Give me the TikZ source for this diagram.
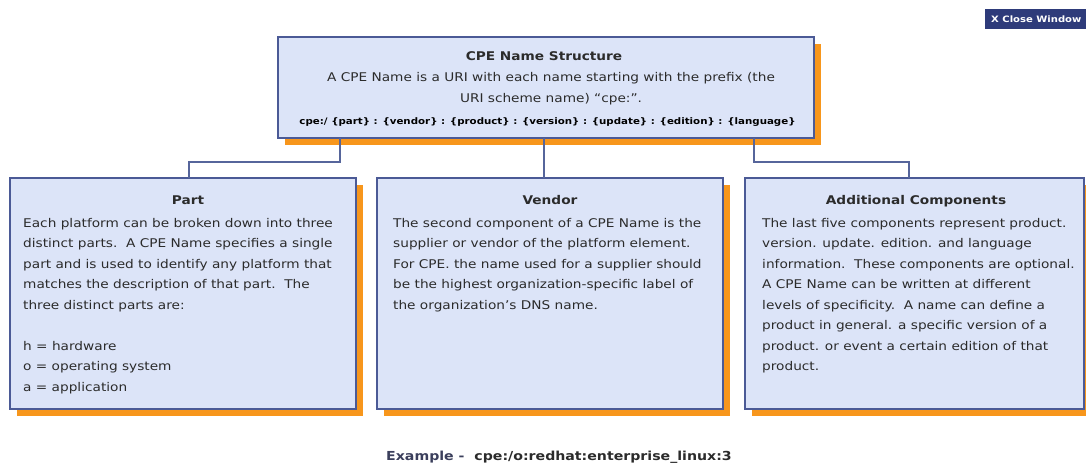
\documentclass[tikz,border=0pt]{standalone}
\usepackage{fontspec}
\setmainfont[FakeStretch=1.14]{DejaVu Sans}
\usetikzlibrary{shadows}
\definecolor{cardfill}{HTML}{DCE4F8}
\definecolor{cardedge}{HTML}{4B5A96}
\definecolor{shadowcol}{HTML}{F7961C}
\definecolor{txt}{HTML}{2B2B2B}
\definecolor{linkcol}{HTML}{56659B}
\definecolor{btnfill}{HTML}{2E3B7A}
\definecolor{exlabel}{HTML}{3B3F5C}
\begin{document}
\begin{tikzpicture}[x=1pt,y=-1pt,
  card/.style={draw=cardedge, line width=1.3pt, fill=cardfill, inner sep=0pt, outer sep=0pt,
    general shadow={fill=shadowcol, shadow xshift=6.5pt, shadow yshift=-7pt}},
  link/.style={draw=linkcol, line width=1.2pt},
  body/.style={anchor=north west, align=left, inner sep=0pt, text=txt,
    font=\fontsize{12}{20.5}\selectfont},
  ttl/.style={anchor=base, inner sep=0pt, text=txt, font=\fontsize{12}{15}\selectfont\bfseries}]
\useasboundingbox[fill=white] (0,0) rectangle (1086,464);

% close button in the corner
\node[fill=btnfill, anchor=north west, minimum width=101pt, minimum height=20pt, inner sep=0pt] (btn) at (985,9) {};
\node[anchor=west, inner sep=0pt, text=white, font=\fontsize{8.8}{10}\selectfont\bfseries] (btntext) at (991,19.5) {X Close Window};

% cards
\node[card, minimum width=536pt, minimum height=101pt] (top) at (546,87.5) {};
\node[card, minimum width=346pt, minimum height=231pt] (part) at (183,293.5) {};
\node[card, minimum width=346pt, minimum height=231pt] (vendor) at (550,293.5) {};
\node[card, minimum width=339pt, minimum height=231pt] (extra) at (914.5,293.5) {};

% tree connectors
\coordinate (d1) at (340,162);
\coordinate (e1) at (189,162);
\coordinate (m1) at (544,162);
\coordinate (d3) at (754,162);
\coordinate (e3) at (909,162);
\draw[link] (top.south -| d1) -- (d1) -- (e1) -- (part.north -| e1);
\draw[link] (top.south -| m1) -- (vendor.north -| m1);
\draw[link] (top.south -| d3) -- (d3) -- (e3) -- (extra.north -| e3);

% header card text
\node[ttl] (toptitle) at (544,60) {CPE Name Structure};
\node[anchor=north, align=center, inner sep=0pt, text=txt, font=\fontsize{12}{20.5}\selectfont] (topbody) at (551,72.5)
  {A CPE Name is a URI with each name starting with the prefix (the\\URI scheme name) “cpe:”.};
\node[anchor=base, inner sep=0pt, text=black, font=\fontsize{9}{11}\selectfont\bfseries] (syntax) at (547.5,124)
  {cpe:/ \{part\} : \{vendor\} : \{product\} : \{version\} : \{update\} : \{edition\} : \{language\}};

% part card
\node[ttl] (parttitle) at (188,204) {Part};
\node[body] (partbody) at (23,218)
  {Each platform can be broken down into three\\
   distinct parts.\ \ A CPE Name specifies a single\\
   part and is used to identify any platform that\\
   matches the description of that part.\ \ The\\
   three distinct parts are:\\[20.5pt]
   h = hardware\\
   o = operating system\\
   a = application};

% vendor card
\node[ttl] (vendortitle) at (550,204) {Vendor};
\node[body] (vendorbody) at (393,218)
  {The second component of a CPE Name is the\\
   supplier or vendor of the platform element.\\
   For CPE. the name used for a supplier should\\
   be the highest organization-specific label of\\
   the organization's DNS name.};

% additional components card
\node[ttl] (extratitle) at (916,204) {Additional Components};
\node[body] (extrabody) at (762,218)
  {The last five components represent product.\\
   version. update. edition. and language\\
   information.\ \ These components are optional.\\
   A CPE Name can be written at different\\
   levels of specificity.\ \ A name can define a\\
   product in general. a specific version of a\\
   product. or event a certain edition of that\\
   product.};

% example line
\node[anchor=base west, inner sep=0pt, font=\fontsize{12.4}{14}\selectfont\bfseries] (example) at (386,460)
  {\textcolor{exlabel}{Example -}\ \ \textcolor{txt}{cpe:/o:redhat:enterprise\_linux:3}};
\end{tikzpicture}
\end{document}
